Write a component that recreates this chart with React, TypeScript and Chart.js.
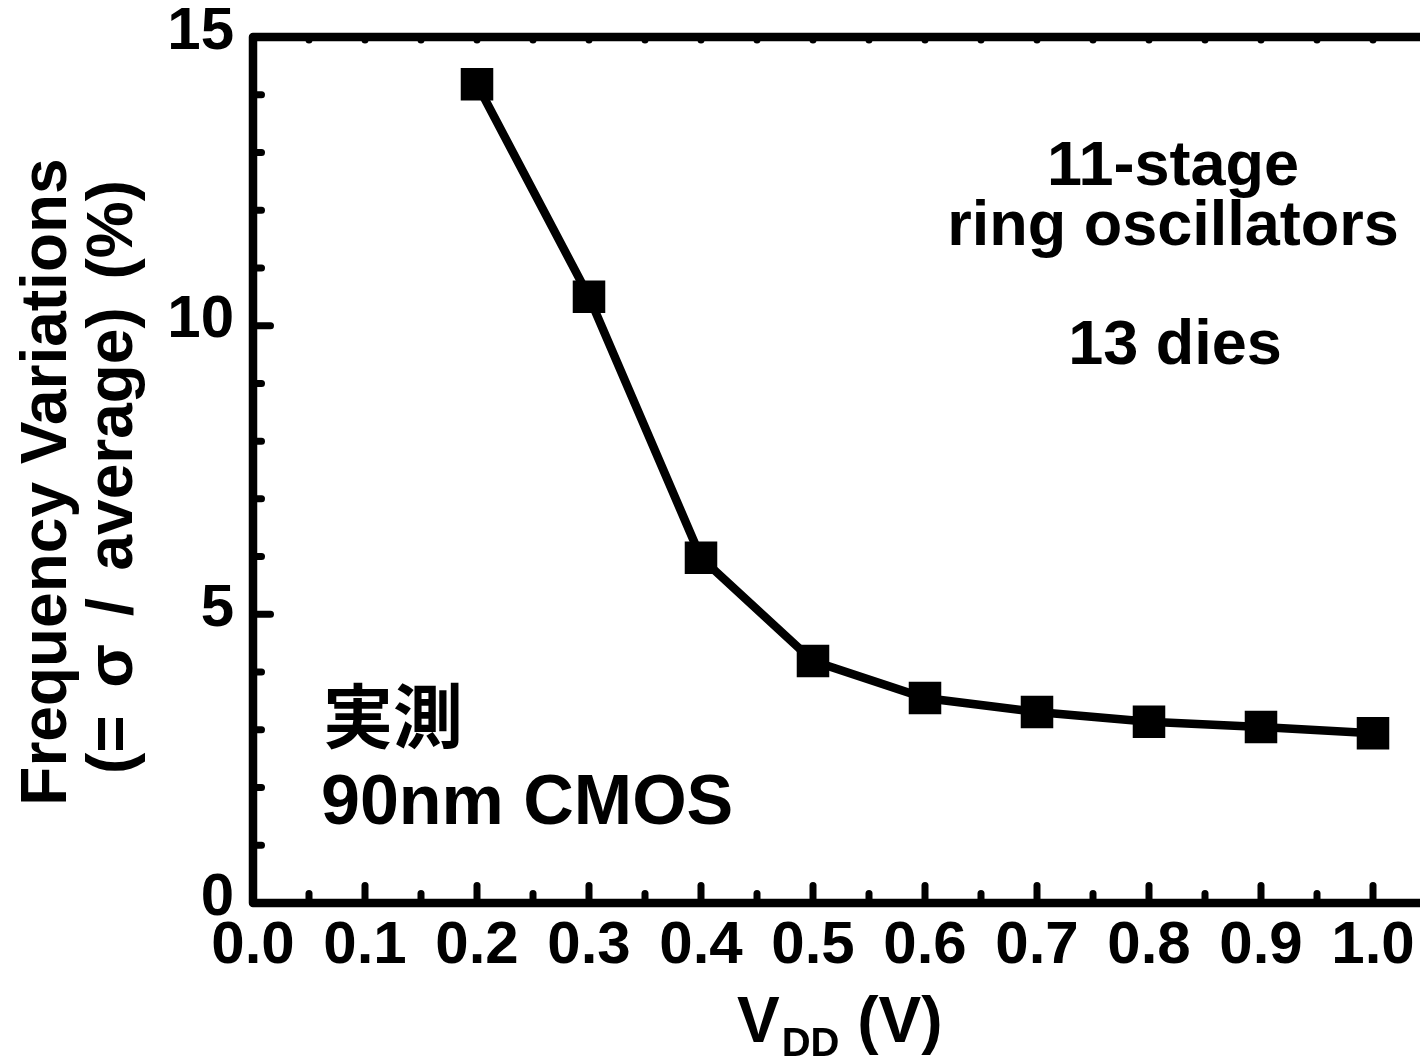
import React, { useEffect, useRef } from "react";
import { Chart, registerables } from "chart.js";

Chart.register(...registerables);

// ---- data ----
const vdd = [0.2, 0.3, 0.4, 0.5, 0.6, 0.7, 0.8, 0.9, 1.0];
const freqVariation = [14.18, 10.5, 5.98, 4.19, 3.55, 3.31, 3.14, 3.05, 2.94];

const xTickValues = [0, 0.1, 0.2, 0.3, 0.4, 0.5, 0.6, 0.7, 0.8, 0.9, 1.0];
const xMinorValues = [0.05, 0.15, 0.25, 0.35, 0.45, 0.55, 0.65, 0.75, 0.85, 0.95];
const yTickValues = [0, 5, 10, 15];
const yMinorValues = [1, 2, 3, 4, 6, 7, 8, 9, 11, 12, 13, 14];

const yTitleLines = ["Frequency Variations", "(= σ / average) (%)"];
const xTitleMain = "V";
const xTitleSub = "DD";
const xTitleUnit = " (V)";
const noteRight = ["11-stage", "ring oscillators", "13 dies"];
const noteLeft = ["実測", "90nm CMOS"];

const FONT = '"Liberation Sans", Arial, "Noto Sans CJK JP", sans-serif';
const W = 1420;
const H = 1057;

const framePlugin = {
  id: "frameAndNotes",
  afterDraw(chart: any) {
    const { ctx, chartArea, scales } = chart;
    const xs = scales.x;
    const ys = scales.y;
    const L = chartArea.left;
    const T = chartArea.top;
    const B = chartArea.bottom;
    const R = chart.width + 20;
    ctx.save();
    ctx.strokeStyle = "#000";
    ctx.fillStyle = "#000";
    ctx.lineJoin = "round";
    ctx.lineCap = "round";
    ctx.lineWidth = 8.5;
    ctx.beginPath();
    ctx.moveTo(R, T);
    ctx.lineTo(L, T);
    ctx.lineTo(L, B);
    ctx.lineTo(R, B);
    ctx.stroke();

    ctx.lineWidth = 7;
    const seg = (x1: number, y1: number, x2: number, y2: number) => {
      ctx.beginPath();
      ctx.moveTo(x1, y1);
      ctx.lineTo(x2, y2);
      ctx.stroke();
    };
    // bottom axis ticks (inward)
    xTickValues.forEach((v) => {
      const px = xs.getPixelForValue(v);
      seg(px, B, px, B - 17.5);
    });
    xMinorValues.forEach((v) => {
      const px = xs.getPixelForValue(v);
      seg(px, B, px, B - 9.5);
    });
    // top axis small ticks
    [...xTickValues, ...xMinorValues].forEach((v) => {
      const px = xs.getPixelForValue(v);
      seg(px, T, px, T + 3);
    });
    // left axis ticks
    yTickValues.forEach((v) => {
      const py = ys.getPixelForValue(v);
      seg(L, py, L + 17.5, py);
    });
    yMinorValues.forEach((v) => {
      const py = ys.getPixelForValue(v);
      seg(L, py, L + 8.5, py);
    });

    // y-axis title (two rotated lines)
    ctx.save();
    ctx.textAlign = "center";
    ctx.textBaseline = "middle";
    ctx.font = `bold 64px ${FONT}`;
    ctx.translate(48, 482);
    ctx.rotate(-Math.PI / 2);
    ctx.fillText(yTitleLines[0], 0, 0);
    (ctx as any).wordSpacing = "10px";
    ctx.fillText(yTitleLines[1], 5, 66);
    (ctx as any).wordSpacing = "0px";
    ctx.restore();

    // x-axis title with subscript
    ctx.textBaseline = "alphabetic";
    ctx.textAlign = "left";
    ctx.font = `bold 64px ${FONT}`;
    let tx = 737;
    ctx.fillText(xTitleMain, tx, 1042);
    tx += ctx.measureText(xTitleMain).width;
    ctx.font = `bold 40px ${FONT}`;
    ctx.fillText(xTitleSub, tx + 2, 1056);
    tx += 2 + ctx.measureText(xTitleSub).width;
    ctx.font = `bold 64px ${FONT}`;
    ctx.fillText(xTitleUnit, tx, 1042);

    // annotations
    ctx.textAlign = "center";
    ctx.font = `bold 63px ${FONT}`;
    ctx.fillText(noteRight[0], 1173, 185);
    ctx.fillText(noteRight[1], 1173, 245);
    ctx.fillText(noteRight[2], 1175, 364);

    ctx.textAlign = "left";
    ctx.font = `bold 70px ${FONT}`;
    ctx.fillText(noteLeft[0], 323, 743);
    ctx.fillText(noteLeft[1], 321, 824);
    ctx.restore();
  },
};

export default function App() {
  const canvasRef = useRef<HTMLCanvasElement | null>(null);

  useEffect(() => {
    document.body.style.margin = "0";
    document.body.style.overflow = "hidden";
    const canvas = canvasRef.current;
    if (!canvas) return;
    const xMax = (W - 253) / 1120;
    const chart = new Chart(canvas, {
      type: "line",
      data: {
        datasets: [
          {
            data: vdd.map((v, i) => ({ x: v, y: freqVariation[i] })),
            borderColor: "#000",
            backgroundColor: "#000",
            borderWidth: 8.5,
            pointStyle: "rect",
            pointRadius: 23,
            pointBackgroundColor: "#000",
            pointBorderColor: "#000",
            pointBorderWidth: 0,
            tension: 0,
          },
        ],
      },
      options: {
        animation: false,
        responsive: false,
        devicePixelRatio: 1,
        layout: { autoPadding: false, padding: { top: 37, right: 0, left: 0, bottom: 0 } },
        plugins: {
          legend: { display: false },
          tooltip: { enabled: false },
        },
        scales: {
          x: {
            type: "linear",
            min: 0,
            max: xMax,
            grid: { display: false, drawTicks: false },
            border: { display: false },
            afterBuildTicks: (s: any) => {
              s.ticks = xTickValues.map((v) => ({ value: v }));
            },
            afterFit: (s: any) => {
              s.height = H - 903;
              s.paddingLeft = 0;
              s.paddingRight = 0;
            },
            ticks: {
              color: "#000",
              padding: 7,
              maxRotation: 0,
              autoSkip: false,
              font: { family: FONT, size: 60, weight: "bold", lineHeight: 1.2 },
              callback: (v: any) => Number(v).toFixed(1),
            },
          },
          y: {
            type: "linear",
            min: 0,
            max: 15,
            grid: { display: false, drawTicks: false },
            border: { display: false },
            afterBuildTicks: (s: any) => {
              s.ticks = yTickValues.map((v) => ({ value: v }));
            },
            afterFit: (s: any) => {
              s.width = 253;
              s.paddingTop = 0;
              s.paddingBottom = 0;
            },
            ticks: {
              color: "#000",
              padding: 19,
              labelOffset: -5,
              autoSkip: false,
              font: { family: FONT, size: 60, weight: "bold", lineHeight: 1.2 },
              callback: (v: any) => String(v),
            },
          },
        },
      },
      plugins: [framePlugin],
    } as any);
    return () => chart.destroy();
  }, []);

  return (
    <div style={{ width: W, height: H, position: "relative", background: "#fff" }}>
      <canvas ref={canvasRef} width={W} height={H} style={{ width: W, height: H, display: "block" }} />
    </div>
  );
}
